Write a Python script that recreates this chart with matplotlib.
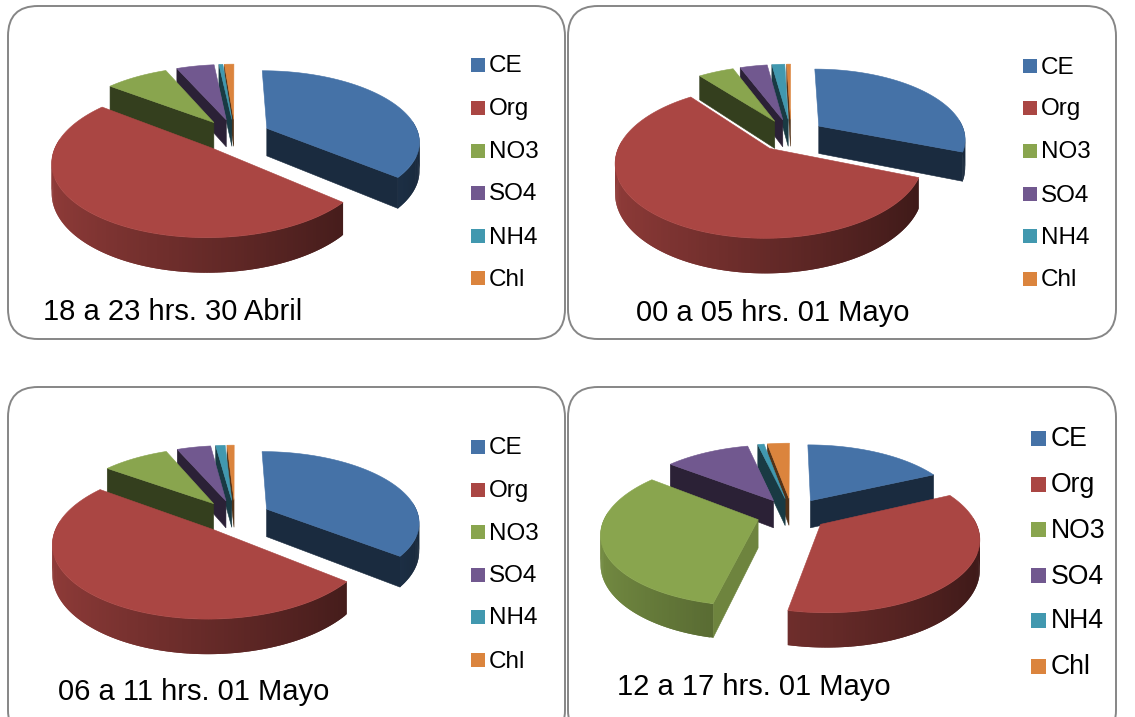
import numpy as np
import matplotlib
matplotlib.use("Agg")
import matplotlib.pyplot as plt
from matplotlib.colors import to_rgb
from matplotlib.patches import FancyBboxPatch, Polygon, Rectangle

plt.rcParams['font.family'] = ['Liberation Sans', 'DejaVu Sans']

labels = ["CE", "Org", "NO3", "SO4", "NH4", "Chl"]
colors = ["#4572A7", "#AA4643", "#89A54E", "#71588F", "#4198AF", "#DB843D"]

values_a = [36.3, 49.2, 8.0, 4.8, 0.5, 1.2]
values_b = [31.0, 58.5, 4.7, 3.6, 1.7, 0.5]
values_c = [35.8, 49.2, 8.5, 4.3, 1.2, 0.9]
values_d = [18.0, 35.3, 32.3, 10.8, 0.8, 2.8]

titles = ["18 a 23 hrs. 30 Abril", "00 a 05 hrs. 01 Mayo",
          "06 a 11 hrs. 01 Mayo", "12 a 17 hrs. 01 Mayo"]

R = 152.0
SQUASH = 0.457
PERSP = 0.17
DEPTH = 28.0
EXPLODE = 0.234


def project(cx, cy, u, v, down=0.0, xs=1.0):
    p = 1.0 / (1.0 + PERSP * v)
    return cx + xs * R * u * p, cy - R * SQUASH * v * p + down * DEPTH * p


def shaded(color, f):
    return tuple(c * f for c in to_rgb(color))


def face(ax, pts, color, lw=0.4):
    ax.add_patch(Polygon(pts, closed=True, facecolor=color, edgecolor=color, lw=lw))


def pie3d(ax, values, cx, cy, xs=1.0):
    fr = np.array(values, dtype=float)
    fr = fr / fr.sum()
    edges = np.concatenate([[0], np.cumsum(fr)]) * 2 * np.pi
    mids = (edges[:-1] + edges[1:]) / 2
    # far slices first, then the near ones go over them
    for i in np.argsort(-np.cos(mids)):
        a0, a1 = edges[i], edges[i + 1]
        ou = EXPLODE * np.sin(mids[i])
        ov = EXPLODE * np.cos(mids[i])
        th = np.linspace(a0, a1, max(3, int(np.degrees(a1 - a0)) + 2))
        us = ou + np.sin(th)
        vs = ov + np.cos(th)

        # cut walls, only the ones turned to the viewer
        for a, nrm in ((a0, a0 - np.pi / 2), (a1, a1 + np.pi / 2)):
            if np.cos(nrm) > 0:
                continue
            tip = (ou + np.sin(a), ov + np.cos(a))
            f = 0.8 if np.sin(nrm) > 0.8 else 0.38
            face(ax, [project(cx, cy, ou, ov, xs=xs), project(cx, cy, *tip, xs=xs),
                      project(cx, cy, *tip, down=1, xs=xs), project(cx, cy, ou, ov, down=1, xs=xs)],
                 shaded(colors[i], f))

        # outer rim, darker towards the right, each quad runs under the next one
        for j in range(len(th) - 1):
            mid = (th[j] + th[j + 1]) / 2
            if np.cos(mid) > 0.1:
                continue
            k = min(j + 2, len(th) - 1)
            f = 0.6 - 0.25 * np.sin(mid)
            face(ax, [project(cx, cy, us[j], vs[j], xs=xs), project(cx, cy, us[k], vs[k], xs=xs),
                      project(cx, cy, us[k], vs[k], down=1, xs=xs), project(cx, cy, us[j], vs[j], down=1, xs=xs)],
                 shaded(colors[i], f), lw=0)

        top = [project(cx, cy, ou, ov, xs=xs)] + [project(cx, cy, a, b, xs=xs) for a, b in zip(us, vs)]
        face(ax, top, colors[i])


def legend(ax, x_box, x_text, ys, box, size):
    for name, col, y in zip(labels, colors, ys):
        ax.add_patch(Rectangle((x_box, y - box / 2), box, box, facecolor=col, edgecolor="none"))
        ax.text(x_text, y + 1.5, name, fontsize=size, va="center", ha="left", color="black")


def frame(ax, x0, y0, x1, y1):
    ax.add_patch(FancyBboxPatch((x0 + 30, y0 + 30), x1 - x0 - 60, y1 - y0 - 60,
                                boxstyle="round,pad=30,rounding_size=30",
                                facecolor="white", edgecolor="#868686", lw=1.4))


def main():
    fig = plt.figure(figsize=(11.35, 7.17), dpi=100)
    ax = fig.add_axes([0, 0, 1, 1])
    ax.set_xlim(0, 1135)
    ax.set_ylim(717, 0)
    ax.axis("off")

    frame(ax, 8, 6, 565, 339)
    frame(ax, 568, 6, 1116, 339)
    frame(ax, 8, 387, 565, 740)
    frame(ax, 568, 387, 1116, 740)

    pie3d(ax, values_a, 235, 135)
    pie3d(ax, values_b, 791, 135, xs=0.965)
    pie3d(ax, values_c, 235, 516)
    pie3d(ax, values_d, 792, 514)

    legend(ax, 471, 489, [65, 108, 151, 193, 236, 278], 14, 17.5)
    legend(ax, 1023, 1041, [66, 108, 151, 194, 236, 279], 14, 17.5)
    legend(ax, 471, 489, [447, 490, 532, 575, 617, 660], 14, 17.5)
    legend(ax, 1031, 1051, [438, 484, 529, 575, 620, 666], 15, 19.2)

    ax.text(43, 312, titles[0], fontsize=21, va="center", color="black")
    ax.text(636, 313, titles[1], fontsize=21, va="center", color="black")
    ax.text(58, 692, titles[2], fontsize=21, va="center", color="black")
    ax.text(617, 687, titles[3], fontsize=21, va="center", color="black")

    fig.savefig("out.png", dpi=100)


if __name__ == "__main__":
    main()
